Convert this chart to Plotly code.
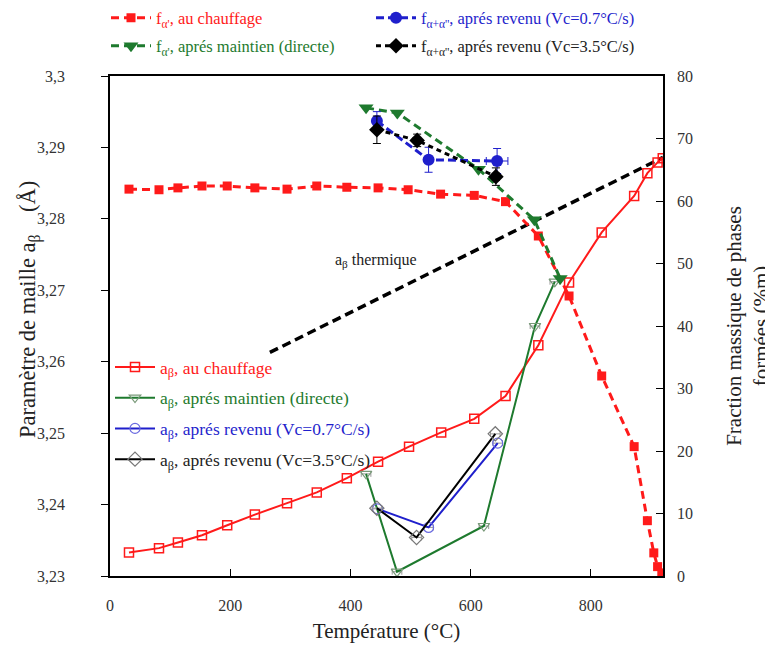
import plotly.graph_objects as go

# ---------------- data ----------------
# f_alpha' au chauffage (right axis, %m)
T_fa_ch = [31.6, 81.5, 113, 153, 195, 241, 294.5, 344, 394, 446, 496, 550, 606, 658,
           712.6, 763.7, 818, 872, 894, 904.7, 911, 918]
f_fa_ch = [61.9, 61.8, 62.1, 62.4, 62.4, 62.1, 61.9, 62.4, 62.2, 62.1, 61.8, 61.1, 60.9, 59.9,
           54.4, 44.8, 32.0, 20.7, 8.85, 3.7, 1.5, 0.5]

# f_alpha' apres maintien (directe)
T_fa_mt = [426, 478, 613, 706, 749]
f_fa_mt = [74.9, 74.1, 65.1, 57.0, 47.6]

# f_alpha+alpha'' apres revenu Vc=0.7
T_fr_07 = [444, 530, 644]
f_fr_07 = [72.8, 66.6, 66.4]
f_fr_07_err = [1.5, 2.0, 2.0]
T_fr_07_err = [0, 0, 18]

# f_alpha+alpha'' apres revenu Vc=3.5
T_fr_35 = [444, 511, 642]
f_fr_35 = [71.4, 69.7, 63.9]
f_fr_35_err = [2.2, 1.0, 1.4]
T_fr_35_err = [0, 0, 6]

# a_beta au chauffage (left axis, Angstrom)
T_ab_ch = [31.6, 81.5, 113, 153, 195, 241, 294.5, 344, 394, 446, 497.5, 551, 606, 658,
           712.6, 763.7, 818, 872, 894, 911, 919.6]
a_ab_ch = [3.2333, 3.2339, 3.2347, 3.2357, 3.2371, 3.2386, 3.2402, 3.2417, 3.2437, 3.2460,
           3.2481, 3.2501, 3.2520, 3.2552, 3.2623, 3.2711, 3.2781, 3.2832, 3.2864, 3.2879, 3.2885]

# a_beta apres maintien (directe)
T_ab_mt = [426, 477.5, 622, 707, 740]
a_ab_mt = [3.2443, 3.2306, 3.2370, 3.2650, 3.2712]

# a_beta apres revenu Vc=0.7
T_ab_07 = [445, 530, 645]
a_ab_07 = [3.2394, 3.2368, 3.2486]

# a_beta apres revenu Vc=3.5
T_ab_35 = [444, 510, 641]
a_ab_35 = [3.2395, 3.2354, 3.2499]

# a_beta thermique
T_th = [266, 920]
a_th = [3.2613, 3.2886]

x_ticks = [0, 200, 400, 600, 800]

# ---------------- figure ----------------
SERIF = "Liberation Serif, Times New Roman, Times, serif"
RED = "#ff1a1a"
GREEN = "#1e7a2e"
BLUE = "#1f1fcc"
BLACK = "#000000"

# the page body adds an 8 px offset, so the figure is 8 px smaller than the window
OFF = 8
W, H = 773 - OFF, 647 - OFF
ML, MR, MT, MB = 110 - OFF, 773 - 663, 76 - OFF, 647 - 576
PW, PH = W - ML - MR, H - MT - MB


def px2paper(px, py):
    """screen pixel -> paper fraction"""
    fx, fy = px - OFF, py - OFF
    return (fx - ML) / PW, (H - MB - fy) / PH


fig = go.Figure()

# a_beta thermique
fig.add_trace(go.Scatter(x=T_th, y=a_th, mode="lines",
                         line=dict(color=BLACK, width=3.5, dash="9px,5px"),
                         showlegend=False, yaxis="y"))

# a_beta series (left legend)
fig.add_trace(go.Scatter(
    x=T_ab_ch, y=a_ab_ch, mode="lines+markers",
    line=dict(color=RED, width=2),
    marker=dict(symbol="square-open", size=9, color=RED, line=dict(width=1.5)),
    name=f'<span style="color:{RED}">a<sub>β</sub>, au chauffage</span>',
    legend="legend5", legendgroup="g1", yaxis="y"))
fig.add_trace(go.Scatter(
    x=T_ab_mt, y=a_ab_mt, mode="lines+markers",
    line=dict(color=GREEN, width=2),
    marker=dict(symbol="triangle-down-open", size=10, color="#7a9a7a", line=dict(width=1.2)),
    error_x=dict(type="constant", value=8, color="#999999", thickness=1, width=3),
    name=f'<span style="color:{GREEN}">a<sub>β</sub>, aprés maintien (directe)</span>',
    legend="legend5", legendgroup="g2", yaxis="y"))
fig.add_trace(go.Scatter(
    x=T_ab_07, y=a_ab_07, mode="lines+markers",
    line=dict(color=BLUE, width=2),
    marker=dict(symbol="circle-open", size=10, color="#6a6ae0", line=dict(width=1.2)),
    error_x=dict(type="constant", value=8, color="#999999", thickness=1, width=3),
    name=f'<span style="color:{BLUE}">a<sub>β</sub>, aprés revenu (Vc=0.7°C/s)</span>',
    legend="legend5", legendgroup="g3", yaxis="y"))
fig.add_trace(go.Scatter(
    x=T_ab_35, y=a_ab_35, mode="lines+markers",
    line=dict(color=BLACK, width=2),
    marker=dict(symbol="diamond-open", size=11, color="#777777", line=dict(width=1.2)),
    error_x=dict(type="constant", value=8, color="#999999", thickness=1, width=3),
    name='<span style="color:#222222">a<sub>β</sub>, aprés revenu (Vc=3.5°C/s)</span>',
    legend="legend5", legendgroup="g4", yaxis="y"))

# f series (right axis, top legends)
fig.add_trace(go.Scatter(
    x=T_fa_ch, y=f_fa_ch, mode="lines+markers",
    line=dict(color=RED, width=3, dash="8px,5px"),
    marker=dict(symbol="square", size=9, color=RED),
    name="f<sub>α'</sub>, au chauffage", legend="legend", yaxis="y2"))
fig.add_trace(go.Scatter(
    x=T_fa_mt, y=f_fa_mt, mode="lines+markers",
    line=dict(color=GREEN, width=3, dash="8px,5px"),
    marker=dict(symbol="triangle-down", size=13, color=GREEN),
    name="f<sub>α'</sub>, aprés maintien (directe)", legend="legend3", yaxis="y2"))
fig.add_trace(go.Scatter(
    x=T_fr_07, y=f_fr_07, mode="lines+markers",
    line=dict(color=BLUE, width=3, dash="8px,4px"),
    marker=dict(symbol="circle", size=12, color=BLUE),
    error_y=dict(type="data", array=f_fr_07_err, color=BLUE, thickness=1, width=4),
    error_x=dict(type="data", array=T_fr_07_err, color=BLUE, thickness=1, width=4),
    name="f<sub>α+α''</sub>, aprés revenu (Vc=0.7°C/s)", legend="legend2", yaxis="y2"))
fig.add_trace(go.Scatter(
    x=T_fr_35, y=f_fr_35, mode="lines+markers",
    line=dict(color=BLACK, width=3, dash="5px,4px"),
    marker=dict(symbol="diamond", size=12, color=BLACK),
    error_y=dict(type="data", array=f_fr_35_err, color=BLACK, thickness=1, width=4),
    error_x=dict(type="data", array=T_fr_35_err, color=BLACK, thickness=1, width=4),
    name="f<sub>α+α''</sub>, aprés revenu (Vc=3.5°C/s)", legend="legend4", yaxis="y2"))

fig.add_annotation(x=371, y=3.2742, xref="x", yref="y", xanchor="left",
                   text="a<sub>β</sub> thermique", showarrow=False,
                   font=dict(family=SERIF, size=16, color="#222222"))

# left axis title (as a rotated annotation so it can sit exactly where the reference has it)
tx, ty = px2paper(29, 310)
fig.add_annotation(x=tx, y=ty, xref="paper", yref="paper", xanchor="center", yanchor="middle",
                   textangle=-90, showarrow=False,
                   text="Paramètre de maille a<sub>β</sub>\u00a0\u00a0\u00a0\u00a0(Å)",
                   font=dict(family=SERIF, size=22.5, color="#222222"))

tick_font = dict(family=SERIF, size=16, color="#333333")


def top_legend(px, py, color):
    x, y = px2paper(px, py)
    return dict(x=x, y=y, xanchor="left", yanchor="middle", bgcolor="rgba(0,0,0,0)",
                font=dict(family=SERIF, size=16.5, color=color), itemwidth=40)


lx, ly = px2paper(110, 413)

fig.update_layout(
    width=W, height=H,
    margin=dict(l=ML, r=MR, t=MT, b=MB, autoexpand=False),
    plot_bgcolor="white", paper_bgcolor="white",
    separators=", ",
    font=dict(family=SERIF, size=16, color="#222222"),
    xaxis=dict(range=[0, 920], tickvals=x_ticks, ticks="inside", ticklen=7,
               tickcolor="black", showline=True, linecolor="black", linewidth=1.5,
               mirror=True, showgrid=False, zeroline=False, tickfont=tick_font,
               ticklabelstandoff=14, automargin=False,
               title=dict(text="Température (°C)", font=dict(family=SERIF, size=21, color="#222222"),
                          standoff=10)),
    yaxis=dict(range=[3.23, 3.30], dtick=0.01, tick0=3.23, ticks="outside", ticklen=7,
               tickcolor="black", showline=True, linecolor="black", linewidth=1.5,
               showgrid=False, zeroline=False, tickfont=tick_font, ticklabelstandoff=33,
               automargin=False),
    yaxis2=dict(range=[0, 80], dtick=10, overlaying="y", side="right", ticks="inside",
                ticklen=7, tickcolor="black", showline=True, linecolor="black", linewidth=1.5,
                showgrid=False, zeroline=False, tickfont=tick_font, ticklabelstandoff=9,
                automargin=False,
                title=dict(text="Fraction massique de phases<br>formées (%m)",
                           font=dict(family=SERIF, size=21, color="#222222"), standoff=40)),
    legend=top_legend(106, 18, RED),
    legend2=top_legend(371, 18, BLUE),
    legend3=top_legend(106, 46, GREEN),
    legend4=top_legend(371, 46, "#222222"),
    legend5=dict(x=lx, y=ly, xanchor="left", yanchor="middle", bgcolor="rgba(0,0,0,0)",
                 font=dict(family=SERIF, size=17.5), tracegroupgap=5, itemwidth=40),
)

fig.write_html("out.html")
